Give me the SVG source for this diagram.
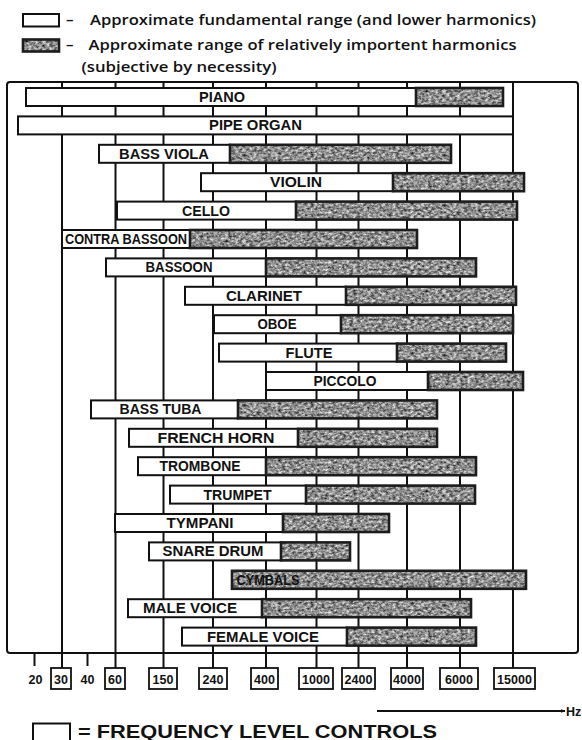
<svg xmlns="http://www.w3.org/2000/svg" width="582" height="740" viewBox="0 0 582 740">
<defs>
<filter id="nz" x="0" y="0" width="1" height="1" filterUnits="objectBoundingBox" color-interpolation-filters="sRGB">
<feTurbulence type="fractalNoise" baseFrequency="0.28 0.42" numOctaves="3" seed="9" stitchTiles="stitch"/>
<feColorMatrix type="matrix" values="1.15 0 0 0 -0.02  1.15 0 0 0 -0.02  1.15 0 0 0 -0.02  0 0 0 0 1"/>
</filter>
<pattern id="tex" patternUnits="userSpaceOnUse" width="200" height="50">
<rect width="200" height="50" fill="#888" filter="url(#nz)"/>
</pattern>
<marker id="arr" viewBox="0 0 10 10" refX="9" refY="5" markerWidth="5" markerHeight="5" orient="auto" markerUnits="userSpaceOnUse">
<path d="M0,1 L10,5 L0,9 Z" fill="#111"/>
</marker>
<style>
.fr{fill:#fff;stroke:#111;stroke-width:2}
.hr{fill:url(#tex);stroke:#1c1c1c;stroke-width:2.6}
.lbl{font-family:"Liberation Sans",Arial,sans-serif;font-weight:bold;font-size:14px;fill:#111;text-anchor:middle}
.leg{font-family:"Open Sans","Liberation Sans",Arial,sans-serif;font-weight:600;font-size:15px;fill:#111}
.ax{font-family:"Liberation Sans",Arial,sans-serif;font-weight:bold;font-size:12.5px;fill:#111;text-anchor:middle}
.gl{stroke:#111;stroke-width:2}
.bx{fill:#fff;stroke:#111;stroke-width:1.8}
</style>
</defs>
<rect width="582" height="740" fill="#fff"/>

<g id="legend">
<rect class="fr" x="23" y="14" width="36" height="12.5"/>
<text class="leg" x="66" y="24.5">–</text>
<text class="leg" x="90" y="24.5" textLength="446" lengthAdjust="spacingAndGlyphs">Approximate fundamental range (and lower harmonics)</text>
<rect class="hr" x="23" y="39.5" width="36" height="12"/>
<text class="leg" x="66" y="49.5">–</text>
<text class="leg" x="88.5" y="49.5" textLength="428" lengthAdjust="spacingAndGlyphs">Approximate range of relatively importent harmonics</text>
<text class="leg" x="81.5" y="72" textLength="195" lengthAdjust="spacingAndGlyphs">(subjective by necessity)</text>
</g>

<g id="grid">
<rect x="7" y="82" width="571" height="571" rx="3" fill="none" stroke="#111" stroke-width="2"/>
<line class="gl" x1="62" y1="82" x2="62" y2="668"/>
<line class="gl" x1="115.5" y1="82" x2="115.5" y2="668"/>
<line class="gl" x1="163.5" y1="82" x2="163.5" y2="668"/>
<line class="gl" x1="213" y1="82" x2="213" y2="668"/>
<line class="gl" x1="266" y1="82" x2="266" y2="668"/>
<line class="gl" x1="316.5" y1="82" x2="316.5" y2="668"/>
<line class="gl" x1="358.5" y1="82" x2="358.5" y2="668"/>
<line class="gl" x1="407" y1="82" x2="407" y2="668"/>
<line class="gl" x1="460" y1="82" x2="460" y2="668"/>
<line class="gl" x1="513" y1="82" x2="513" y2="668"/>
<line class="gl" x1="34.5" y1="653" x2="34.5" y2="666"/>
<line class="gl" x1="87.5" y1="653" x2="87.5" y2="666"/>
</g>

<g id="piano"><rect class="fr" x="26" y="88" width="390" height="18"/><rect class="hr" x="416" y="88" width="87" height="18"/><text class="lbl" x="222" y="102" textLength="46" lengthAdjust="spacingAndGlyphs">PIANO</text></g>
<g id="pipe-organ"><rect class="fr" x="18" y="116.4" width="495" height="18"/><text class="lbl" x="255.5" y="130.4" textLength="93" lengthAdjust="spacingAndGlyphs">PIPE ORGAN</text></g>
<g id="bass-viola"><rect class="fr" x="99" y="144.8" width="131" height="18"/><rect class="hr" x="230" y="144.8" width="221" height="18"/><text class="lbl" x="164" y="158.8" textLength="90" lengthAdjust="spacingAndGlyphs">BASS VIOLA</text></g>
<g id="violin"><rect class="fr" x="201" y="173.2" width="192" height="18"/><rect class="hr" x="393" y="173.2" width="131" height="18"/><text class="lbl" x="296" y="187.2" textLength="52" lengthAdjust="spacingAndGlyphs">VIOLIN</text></g>
<g id="cello"><rect class="fr" x="117" y="201.6" width="179" height="18"/><rect class="hr" x="296" y="201.6" width="221" height="18"/><text class="lbl" x="206" y="215.6" textLength="48" lengthAdjust="spacingAndGlyphs">CELLO</text></g>
<g id="contra-bassoon"><rect class="fr" x="62" y="230" width="128" height="18"/><rect class="hr" x="190" y="230" width="227" height="18"/><text class="lbl" x="126" y="244" textLength="122" lengthAdjust="spacingAndGlyphs">CONTRA BASSOON</text></g>
<g id="bassoon"><rect class="fr" x="106" y="258.4" width="160" height="18"/><rect class="hr" x="266" y="258.4" width="210" height="18"/><text class="lbl" x="179" y="272.4" textLength="67" lengthAdjust="spacingAndGlyphs">BASSOON</text></g>
<g id="clarinet"><rect class="fr" x="185" y="286.8" width="161" height="18"/><rect class="hr" x="346" y="286.8" width="170" height="18"/><text class="lbl" x="264" y="300.8" textLength="76" lengthAdjust="spacingAndGlyphs">CLARINET</text></g>
<g id="oboe"><rect class="fr" x="214" y="315.2" width="127" height="18"/><rect class="hr" x="341" y="315.2" width="172" height="18"/><text class="lbl" x="277" y="329.2" textLength="39" lengthAdjust="spacingAndGlyphs">OBOE</text></g>
<g id="flute"><rect class="fr" x="219" y="343.6" width="178" height="18"/><rect class="hr" x="397" y="343.6" width="109" height="18"/><text class="lbl" x="309" y="357.6" textLength="47" lengthAdjust="spacingAndGlyphs">FLUTE</text></g>
<g id="piccolo"><rect class="fr" x="266" y="372" width="162" height="18"/><rect class="hr" x="428" y="372" width="95" height="18"/><text class="lbl" x="345" y="386" textLength="63" lengthAdjust="spacingAndGlyphs">PICCOLO</text></g>
<g id="bass-tuba"><rect class="fr" x="91" y="400.4" width="147" height="18"/><rect class="hr" x="238" y="400.4" width="199" height="18"/><text class="lbl" x="160.5" y="414.4" textLength="82" lengthAdjust="spacingAndGlyphs">BASS TUBA</text></g>
<g id="french-horn"><rect class="fr" x="129" y="428.8" width="169" height="18"/><rect class="hr" x="298" y="428.8" width="139" height="18"/><text class="lbl" x="216" y="442.8" textLength="117" lengthAdjust="spacingAndGlyphs">FRENCH  HORN</text></g>
<g id="trombone"><rect class="fr" x="138" y="457.2" width="128" height="18"/><rect class="hr" x="266" y="457.2" width="210" height="18"/><text class="lbl" x="200" y="471.2" textLength="81" lengthAdjust="spacingAndGlyphs">TROMBONE</text></g>
<g id="trumpet"><rect class="fr" x="170" y="485.6" width="136" height="18"/><rect class="hr" x="306" y="485.6" width="169" height="18"/><text class="lbl" x="237.5" y="499.6" textLength="68" lengthAdjust="spacingAndGlyphs">TRUMPET</text></g>
<g id="tympani"><rect class="fr" x="115" y="514" width="168" height="18"/><rect class="hr" x="283" y="514" width="106" height="18"/><text class="lbl" x="200" y="528" textLength="67" lengthAdjust="spacingAndGlyphs">TYMPANI</text></g>
<g id="snare-drum"><rect class="fr" x="149" y="542.4" width="132" height="18"/><rect class="hr" x="281" y="542.4" width="69" height="18"/><text class="lbl" x="213" y="556.4" textLength="101" lengthAdjust="spacingAndGlyphs">SNARE DRUM</text></g>
<g id="cymbals"><rect class="hr" x="232" y="570.8" width="294" height="18"/><text class="lbl" x="268" y="584.8" textLength="63" lengthAdjust="spacingAndGlyphs" fill="#1a1a1a">CYMBALS</text></g>
<g id="male-voice"><rect class="fr" x="128" y="599.2" width="134" height="18"/><rect class="hr" x="262" y="599.2" width="209" height="18"/><text class="lbl" x="190" y="613.2" textLength="94" lengthAdjust="spacingAndGlyphs">MALE VOICE</text></g>
<g id="female-voice"><rect class="fr" x="182" y="627.6" width="165" height="18"/><rect class="hr" x="347" y="627.6" width="129" height="18"/><text class="lbl" x="263" y="641.6" textLength="112" lengthAdjust="spacingAndGlyphs">FEMALE VOICE</text></g>

<g id="axis">
<text class="ax" x="35.5" y="683.5">20</text>
<rect class="bx" x="51" y="668" width="20" height="21"/><text class="ax" x="61" y="683.5">30</text>
<text class="ax" x="87.5" y="683.5">40</text>
<rect class="bx" x="105" y="668" width="20" height="21"/><text class="ax" x="115" y="683.5">60</text>
<rect class="bx" x="149" y="668" width="28" height="21"/><text class="ax" x="163" y="683.5">150</text>
<rect class="bx" x="199" y="668" width="28" height="21"/><text class="ax" x="213" y="683.5">240</text>
<rect class="bx" x="251" y="668" width="27" height="21"/><text class="ax" x="264.5" y="683.5">400</text>
<rect class="bx" x="299" y="668" width="34" height="21"/><text class="ax" x="316" y="683.5">1000</text>
<rect class="bx" x="342" y="668" width="33" height="21"/><text class="ax" x="358.5" y="683.5">2400</text>
<rect class="bx" x="391" y="668" width="32" height="21"/><text class="ax" x="407" y="683.5">4000</text>
<rect class="bx" x="440" y="668" width="38" height="21"/><text class="ax" x="459" y="683.5">6000</text>
<rect class="bx" x="494" y="668" width="41" height="21"/><text class="ax" x="514.5" y="683.5">15000</text>
<line x1="377" y1="711" x2="565" y2="711" stroke="#111" stroke-width="2" marker-end="url(#arr)"/>
<text x="566" y="715.5" font-family="Liberation Sans, Arial, sans-serif" font-weight="bold" font-size="12.5" fill="#111">Hz</text>
</g>

<g id="bottom-legend">
<rect class="fr" x="33" y="723.5" width="37" height="20"/>
<text x="78" y="737.5" font-family="Liberation Sans, Arial, sans-serif" font-weight="bold" font-size="17.5" fill="#111" textLength="359" lengthAdjust="spacingAndGlyphs">= FREQUENCY  LEVEL  CONTROLS</text>
</g>
</svg>
